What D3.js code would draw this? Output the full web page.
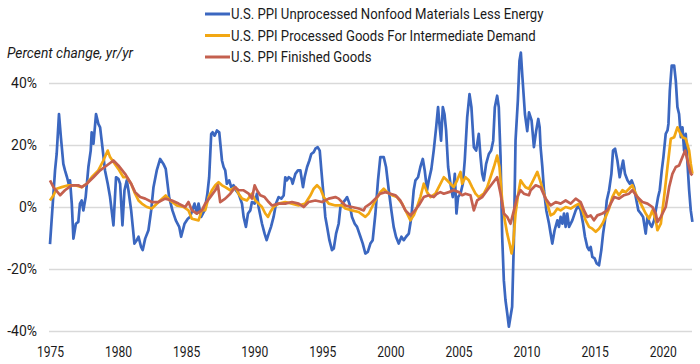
<!DOCTYPE html>
<html>
<head>
<meta charset="utf-8">
<script src="https://cdn.jsdelivr.net/npm/d3@7"></script>
<style>
  body { margin: 0; background: #fff; }
  text { font-family: "Liberation Sans Narrow", "Arial Narrow", "Roboto", sans-serif; fill: #1a1a1a; }
</style>
</head>
<body>
<div class="chart"></div>
<script>
// values, [decimal year, % change yr/yr]
var unprocessedNonfood = [
  [1975.00,-12.0],[1975.37,11.8],[1975.49,17.1],[1975.66,30.0],[1975.80,22.5],[1975.98,13.9],[1976.10,11.8],
  [1976.25,9.6],[1976.40,7.0],[1976.47,8.6],[1976.60,1.1],[1976.72,-10.2],[1976.90,-5.4],[1977.08,-4.8],
  [1977.20,1.1],[1977.33,2.1],[1977.45,-1.1],[1977.62,3.2],[1977.82,12.9],[1977.99,18.2],[1978.06,24.1],
  [1978.19,20.4],[1978.38,30.0],[1978.55,26.8],[1978.68,25.7],[1978.85,19.3],[1979.04,11.8],[1979.24,7.5],
  [1979.41,3.2],[1979.66,-5.9],[1979.85,9.6],[1980.02,9.1],[1980.15,7.5],[1980.32,-5.9],[1980.47,5.4],
  [1980.64,8.6],[1980.76,5.4],[1980.96,-1.1],[1981.08,-6.4],[1981.20,-11.8],[1981.37,-10.7],[1981.50,-9.6],
  [1981.69,-12.9],[1981.81,-13.9],[1981.99,-10.2],[1982.23,-7.5],[1982.43,-1.1],[1982.60,6.4],[1982.84,11.8],
  [1983.09,15.5],[1983.33,13.9],[1983.50,12.3],[1983.75,3.2],[1983.99,-1.1],[1984.24,-4.3],[1984.49,-6.4],
  [1984.63,-9.6],[1984.88,-5.4],[1985.12,-3.8],[1985.29,-3.2],[1985.61,1.1],[1985.78,-2.1],[1985.91,1.1],
  [1986.10,-3.2],[1986.35,-1.1],[1986.55,4.0],[1986.69,9.6],[1986.84,23.6],[1986.94,24.1],[1987.09,23.0],
  [1987.26,24.7],[1987.43,24.1],[1987.63,15.0],[1987.75,12.9],[1987.87,11.8],[1987.99,7.5],[1988.16,8.6],
  [1988.31,6.4],[1988.48,7.0],[1988.65,5.4],[1988.85,4.3],[1989.10,1.1],[1989.22,-3.2],[1989.39,-6.4],
  [1989.54,-2.1],[1989.71,-1.1],[1989.83,1.6],[1990.03,1.1],[1990.20,4.3],[1990.32,0.0],[1990.57,-5.4],
  [1990.76,-8.6],[1990.91,-10.7],[1991.06,-8.6],[1991.23,-6.4],[1991.42,-3.2],[1991.60,1.1],[1991.79,3.2],
  [1991.99,2.7],[1992.16,3.7],[1992.28,9.6],[1992.40,8.6],[1992.53,9.6],[1992.72,9.1],[1992.82,7.5],
  [1993.02,10.7],[1993.21,11.8],[1993.39,11.8],[1993.58,6.4],[1993.70,9.6],[1993.88,12.9],[1994.05,15.0],
  [1994.19,17.1],[1994.37,17.7],[1994.49,18.8],[1994.66,19.3],[1994.81,18.2],[1994.93,11.8],[1995.10,3.2],
  [1995.22,-3.2],[1995.35,-6.4],[1995.52,-10.7],[1995.71,-13.9],[1995.84,-13.4],[1996.01,-8.6],[1996.20,-5.4],
  [1996.33,0.0],[1996.45,1.1],[1996.65,2.1],[1996.82,3.2],[1996.99,1.1],[1997.18,-3.2],[1997.38,-5.4],
  [1997.55,-6.4],[1997.80,-9.6],[1997.97,-11.8],[1998.16,-15.0],[1998.34,-14.5],[1998.53,-11.8],[1998.70,-10.7],
  [1998.90,-2.1],[1999.09,8.6],[1999.26,16.1],[1999.51,16.1],[1999.68,12.9],[1999.88,5.4],[2000.07,-1.1],
  [2000.24,-6.4],[2000.41,-9.6],[2000.61,-11.8],[2000.81,-9.6],[2000.98,-10.7],[2001.15,-9.6],[2001.35,-8.6],
  [2001.54,-3.2],[2001.71,5.4],[2001.84,8.6],[2002.03,9.6],[2002.20,12.9],[2002.38,15.5],[2002.52,11.8],
  [2002.69,5.4],[2002.82,8.6],[2003.01,12.3],[2003.18,18.2],[2003.36,25.7],[2003.50,32.2],[2003.60,26.8],
  [2003.72,21.4],[2003.85,32.2],[2003.97,30.0],[2004.09,24.7],[2004.24,12.9],[2004.41,7.5],[2004.58,3.2],
  [2004.73,10.7],[2004.85,-2.1],[2004.97,3.2],[2005.15,4.3],[2005.32,7.5],[2005.46,15.0],[2005.64,28.9],
  [2005.81,36.4],[2005.95,32.2],[2006.13,19.3],[2006.30,18.2],[2006.49,23.6],[2006.62,16.1],[2006.74,10.7],
  [2006.86,8.6],[2007.03,13.9],[2007.23,17.1],[2007.40,18.2],[2007.55,21.4],[2007.67,32.2],[2007.84,35.9],
  [2007.96,32.2],[2008.09,16.1],[2008.21,-9.6],[2008.33,-23.6],[2008.45,-30.0],[2008.58,-34.3],[2008.70,-38.6],
  [2008.82,-35.4],[2008.94,-32.2],[2009.07,-10.7],[2009.19,21.4],[2009.36,34.3],[2009.48,47.2],[2009.58,49.8],
  [2009.68,42.9],[2009.88,30.0],[2010.05,24.5],[2010.18,30.5],[2010.37,27.9],[2010.54,19.3],[2010.71,24.7],
  [2010.86,28.4],[2010.96,25.7],[2011.03,19.3],[2011.16,12.9],[2011.28,5.4],[2011.45,-1.1],[2011.65,-5.4],
  [2011.77,-8.6],[2011.89,-11.8],[2012.06,-7.5],[2012.26,-4.3],[2012.38,-6.4],[2012.50,-3.2],[2012.63,-5.4],
  [2012.75,-2.1],[2012.87,-6.4],[2012.99,-2.1],[2013.12,-6.4],[2013.36,-4.3],[2013.61,-1.1],[2013.80,0.5],
  [2013.97,-1.1],[2014.15,-5.4],[2014.29,-9.6],[2014.46,-12.9],[2014.59,-13.9],[2014.71,-12.9],[2014.83,-16.1],
  [2015.00,-16.6],[2015.15,-18.2],[2015.32,-18.8],[2015.49,-13.9],[2015.62,-8.6],[2015.76,-4.3],[2015.89,2.1],
  [2016.06,5.4],[2016.23,10.7],[2016.35,18.2],[2016.50,18.8],[2016.67,15.0],[2016.84,9.6],[2016.99,12.9],
  [2017.09,15.0],[2017.23,10.7],[2017.41,8.6],[2017.58,7.5],[2017.72,8.6],[2017.90,6.4],[2018.02,3.2],
  [2018.21,-1.1],[2018.39,-2.1],[2018.56,-3.2],[2018.75,-8.6],[2018.88,-3.2],[2019.05,-5.4],[2019.19,-6.4],
  [2019.37,-4.3],[2019.49,-1.1],[2019.66,3.2],[2019.78,5.4],[2019.93,11.8],[2020.05,16.1],[2020.22,23.6],
  [2020.35,24.7],[2020.42,26.8],[2020.52,37.5],[2020.66,45.6],[2020.84,45.6],[2020.96,40.7],[2021.08,32.2],
  [2021.20,30.0],[2021.33,22.5],[2021.45,25.7],[2021.57,18.2],[2021.69,23.6],[2021.82,13.9],[2021.94,5.4],
  [2022.06,-1.1],[2022.18,-4.8]
];

var processedIntermediate = [
  [1975.00,2.1],[1975.25,3.7],[1975.49,5.9],[1975.86,6.4],[1976.35,7.0],[1976.84,7.0],[1977.33,6.4],
  [1977.70,7.5],[1978.06,9.6],[1978.55,11.8],[1978.92,15.0],[1979.24,18.2],[1979.41,16.1],[1979.66,14.5],
  [1980.02,12.3],[1980.39,9.6],[1980.64,9.6],[1980.96,7.5],[1981.25,4.3],[1981.50,2.1],[1981.74,1.1],
  [1982.11,0.0],[1982.48,-0.5],[1983.09,2.1],[1983.50,3.7],[1983.82,2.1],[1984.31,0.5],[1984.80,0.0],
  [1985.17,-1.1],[1985.42,-3.8],[1985.91,-4.3],[1986.15,-1.1],[1986.40,-1.0],[1986.65,3.2],[1986.89,5.4],
  [1987.14,7.0],[1987.38,8.0],[1987.63,7.0],[1987.87,6.4],[1988.24,5.4],[1988.61,6.4],[1988.85,4.3],
  [1989.10,2.7],[1989.46,2.1],[1989.83,4.3],[1990.08,2.1],[1990.32,1.1],[1990.57,0.0],[1990.81,-2.1],
  [1991.01,-3.2],[1991.18,-1.6],[1991.42,0.0],[1991.79,1.1],[1992.28,1.6],[1992.77,1.1],[1993.26,0.5],
  [1993.75,1.1],[1994.12,3.7],[1994.37,5.9],[1994.61,7.0],[1994.86,5.9],[1995.10,3.2],[1995.47,1.1],
  [1995.96,0.5],[1996.45,0.5],[1996.69,-0.5],[1997.18,-1.1],[1997.67,-1.6],[1998.16,-3.2],[1998.41,-2.1],
  [1998.65,0.0],[1998.90,2.1],[1999.26,4.8],[1999.51,5.9],[1999.75,4.8],[2000.12,3.8],[2000.49,3.2],
  [2000.86,1.1],[2001.22,-2.1],[2001.47,-4.3],[2001.71,-2.7],[2001.96,0.0],[2002.20,3.2],[2002.45,7.5],
  [2002.69,4.8],[2002.94,3.2],[2003.31,4.3],[2003.55,6.4],[2003.92,9.6],[2004.16,8.6],[2004.41,7.5],
  [2004.65,6.4],[2004.90,8.6],[2005.15,11.3],[2005.27,7.5],[2005.51,9.6],[2005.76,8.6],[2006.00,6.4],
  [2006.25,4.3],[2006.49,3.2],[2006.86,4.3],[2007.11,6.4],[2007.35,9.6],[2007.60,12.9],[2007.84,16.6],
  [2008.01,12.9],[2008.21,2.1],[2008.40,-4.3],[2008.58,-8.6],[2008.75,-11.8],[2008.90,-15.0],[2009.02,-11.8],
  [2009.19,-2.1],[2009.39,4.3],[2009.56,8.6],[2009.73,7.5],[2009.92,6.4],[2010.17,5.9],[2010.30,7.0],
  [2010.54,9.1],[2010.79,11.3],[2011.03,8.0],[2011.28,4.3],[2011.52,1.1],[2011.77,-2.7],[2012.01,-2.1],
  [2012.26,-0.5],[2012.50,-1.1],[2012.87,0.0],[2013.24,-0.5],[2013.61,0.5],[2013.85,1.1],[2014.10,-1.1],
  [2014.34,-4.3],[2014.59,-6.4],[2014.83,-7.0],[2015.08,-8.0],[2015.32,-7.0],[2015.57,-5.4],[2015.81,-3.2],
  [2016.06,-0.5],[2016.30,3.2],[2016.55,5.4],[2016.79,3.8],[2017.04,5.4],[2017.28,4.8],[2017.53,5.9],
  [2017.77,7.0],[2018.02,4.3],[2018.26,2.1],[2018.51,0.0],[2018.75,-2.1],[2019.00,-3.8],[2019.24,-1.1],
  [2019.49,-4.3],[2019.61,-7.5],[2019.86,-5.4],[2020.10,3.2],[2020.35,12.9],[2020.59,22.0],[2020.84,22.5],
  [2021.08,25.7],[2021.25,24.1],[2021.45,22.5],[2021.69,22.0],[2021.94,18.2],[2022.06,13.9],[2022.18,10.7]
];

var finishedGoods = [
  [1975.00,8.6],[1975.25,6.4],[1975.74,3.8],[1976.10,5.4],[1976.59,7.0],[1977.08,7.0],[1977.33,6.4],
  [1977.70,7.5],[1978.19,9.6],[1978.68,11.8],[1979.17,13.4],[1979.66,15.0],[1980.02,13.4],[1980.51,10.7],
  [1980.96,7.5],[1981.25,4.8],[1981.62,3.2],[1981.99,2.7],[1982.48,1.6],[1982.97,1.6],[1983.46,2.7],
  [1983.95,2.1],[1984.44,1.1],[1984.93,0.0],[1985.17,1.6],[1985.42,-1.1],[1985.78,-2.1],[1986.15,-1.1],
  [1986.40,1.1],[1986.77,3.2],[1987.14,5.4],[1987.33,7.0],[1987.50,1.6],[1987.87,2.7],[1988.24,4.3],
  [1988.61,6.4],[1988.85,5.4],[1989.22,5.4],[1989.59,4.3],[1989.83,2.7],[1990.03,7.0],[1990.20,5.4],
  [1990.44,3.8],[1990.76,3.2],[1991.06,1.6],[1991.30,0.5],[1991.79,1.1],[1992.28,1.1],[1992.77,1.6],
  [1993.26,1.1],[1993.63,0.0],[1993.99,1.6],[1994.49,2.1],[1994.98,1.6],[1995.47,2.7],[1995.96,3.2],
  [1996.20,2.7],[1996.69,0.5],[1997.18,0.0],[1997.67,-0.5],[1998.04,-1.1],[1998.16,0.0],[1998.53,1.1],
  [1998.90,2.7],[1999.26,4.3],[1999.63,4.8],[2000.00,4.3],[2000.37,3.8],[2000.73,2.1],[2001.10,-1.1],
  [2001.47,-2.7],[2001.71,-1.6],[2002.08,0.5],[2002.45,3.2],[2002.82,3.8],[2003.18,3.2],[2003.43,4.3],
  [2003.67,4.8],[2003.92,4.3],[2004.29,4.8],[2004.65,5.4],[2005.02,4.8],[2005.27,3.8],[2005.51,4.3],
  [2005.88,3.8],[2006.13,-1.1],[2006.37,2.1],[2006.74,3.2],[2007.11,5.4],[2007.47,7.5],[2007.84,9.6],
  [2008.09,4.3],[2008.33,-2.1],[2008.58,-3.2],[2008.82,-5.4],[2009.07,-1.1],[2009.31,3.2],[2009.56,5.4],
  [2009.80,4.3],[2010.17,3.8],[2010.30,5.4],[2010.67,7.0],[2011.03,6.4],[2011.40,2.7],[2011.77,0.5],
  [2012.14,1.6],[2012.50,1.1],[2012.87,2.1],[2013.24,1.1],[2013.61,2.7],[2013.97,1.6],[2014.22,-1.1],
  [2014.46,-3.2],[2014.71,-2.7],[2014.95,-4.3],[2015.20,-2.7],[2015.57,-2.1],[2015.93,-1.1],[2016.18,1.1],
  [2016.43,3.2],[2016.79,2.7],[2017.16,3.8],[2017.53,4.3],[2017.77,5.4],[2018.14,3.2],[2018.51,1.6],
  [2018.88,1.1],[2019.24,0.0],[2019.49,-2.1],[2019.61,-4.8],[2019.86,-3.2],[2020.22,0.0],[2020.47,6.4],
  [2020.71,10.7],[2020.96,12.9],[2021.20,13.4],[2021.45,16.1],[2021.65,18.2],[2021.82,15.0],[2022.06,10.7],
  [2022.18,10.2]
];

var seriesNames = [
  "U.S. PPI Unprocessed Nonfood Materials Less Energy",
  "U.S. PPI Processed Goods For Intermediate Demand",
  "U.S. PPI Finished Goods"
];
var seriesColors = ["#3b67c0", "#f2a713", "#c4604f"];
var yTicks = [-40, -20, 0, 20, 40];
var xTicks = [1975, 1980, 1985, 1990, 1995, 2000, 2005, 2010, 2015, 2020];

var width = 700, height = 364;

// the reference uses a condensed face; squeeze the installed one to match
function squeeze(selection, factor) {
    selection.each(function () {
        var len = this.getComputedTextLength();
        d3.select(this)
            .attr("textLength", len * factor)
            .attr("lengthAdjust", "spacingAndGlyphs");
    });
}

var svg = d3.select(".chart")
    .append("svg")
    .attr("width", width)
    .attr("height", height);

var x = d3.scaleLinear()
    .domain([1975, 2022.15])
    .range([50, 692]);

var y = d3.scaleLinear()
    .domain([-40, 40])
    .range([331, 83]);

// horizontal gridlines + y labels
var yAxis = svg.append("g")
    .attr("transform", "translate(49,0)")
    .call(d3.axisLeft(y)
        .tickValues(yTicks)
        .tickSize(-(692 - 49))
        .tickPadding(12)
        .tickFormat(function (d) { return d + "%"; }));
yAxis.select(".domain").remove();
yAxis.selectAll("line").attr("stroke", "#d9d9d9").attr("stroke-width", 1.5);
yAxis.selectAll("text").style("font-size", "15.5px").attr("fill", "#1a1a1a")
    .call(squeeze, 0.9);

// x labels
var xAxis = svg.append("g")
    .attr("transform", "translate(0,331)")
    .call(d3.axisBottom(x)
        .tickValues(xTicks)
        .tickSize(0)
        .tickPadding(15)
        .tickFormat(d3.format("d")));
xAxis.select(".domain").remove();
xAxis.selectAll("text").style("font-size", "15.5px").attr("fill", "#1a1a1a")
    .call(squeeze, 0.78);

// axis title
svg.append("text")
    .attr("x", 7)
    .attr("y", 58)
    .style("font-size", "15px")
    .style("font-style", "italic")
    .text("Percent change, yr/yr")
    .call(squeeze, 0.92);

var line = d3.line()
    .x(function (d) { return x(d[0]); })
    .y(function (d) { return y(d[1]); });

var allSeries = [unprocessedNonfood, processedIntermediate, finishedGoods];

svg.selectAll(".series")
    .data(allSeries)
    .enter()
    .append("path")
    .attr("class", "series")
    .attr("d", line)
    .attr("fill", "none")
    .attr("stroke", function (d, i) { return seriesColors[i]; })
    .attr("stroke-width", 2.7)
    .attr("stroke-linejoin", "round");

// legend
var legend = svg.selectAll(".legend")
    .data(seriesNames)
    .enter()
    .append("g")
    .attr("class", "legend")
    .attr("transform", function (d, i) { return "translate(205," + (19 + i * 21.5) + ")"; });

legend.append("line")
    .attr("x1", 0).attr("x2", 25)
    .attr("y1", -5).attr("y2", -5)
    .attr("stroke", function (d, i) { return seriesColors[i]; })
    .attr("stroke-width", 3);

legend.append("text")
    .attr("x", 26)
    .style("font-size", "15px")
    .text(function (d) { return d; })
    .call(squeeze, 0.875);
</script>
</body>
</html>
